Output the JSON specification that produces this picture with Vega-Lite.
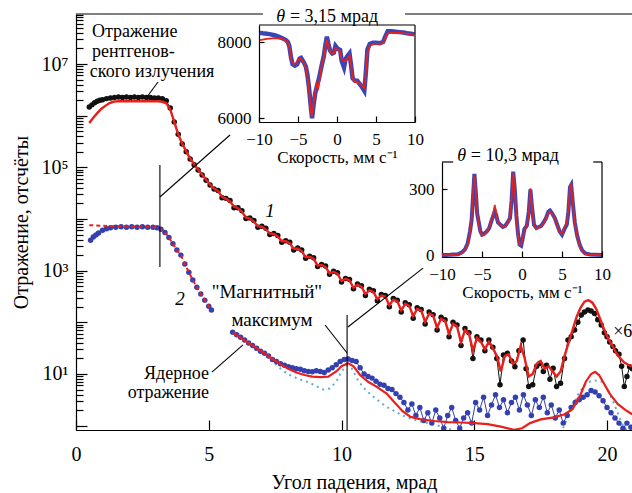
{
"$schema":"https://vega.github.io/schema/vega-lite/v6.json",
"width":556,"height":416,
"autosize":{"type":"none"},
"padding":{"left":76,"top":14,"right":0,"bottom":63},
"background":"white",
"config":{"view":{"stroke":null},
 "axis":{"grid":false,"domainColor":"#000","tickColor":"#000","labelColor":"#000","titleColor":"#000","titleFontWeight":"normal","domainWidth":1.2,"tickWidth":1.2,"labelFlush":false,"labelOverlap":false}},
"datasets":{
 "b1":[{"x":0.5,"y":1480000},{"x":0.6,"y":1620000},{"x":0.7,"y":1780000},{"x":0.8,"y":1910000},{"x":0.9,"y":2000000},{"x":1.0,"y":2040000},{"x":1.15,"y":2140000},{"x":1.3,"y":2190000},{"x":1.45,"y":2240000},{"x":1.6,"y":2290000},{"x":1.75,"y":2240000},{"x":1.9,"y":2290000},{"x":2.05,"y":2240000},{"x":2.2,"y":2290000},{"x":2.35,"y":2240000},{"x":2.5,"y":2290000},{"x":2.65,"y":2240000},{"x":2.8,"y":2240000},{"x":2.95,"y":2190000},{"x":3.1,"y":2190000},{"x":3.25,"y":2140000},{"x":3.4,"y":1950000},{"x":3.55,"y":1410000},{"x":3.7,"y":759000},{"x":3.85,"y":437000},{"x":4.0,"y":282000},{"x":4.15,"y":200000},{"x":4.3,"y":145000},{"x":4.45,"y":112000},{"x":4.6,"y":89100},{"x":4.75,"y":70800},{"x":4.9,"y":56200},{"x":5.05,"y":45700},{"x":5.2,"y":38000},{"x":5.35,"y":35500},{"x":5.5,"y":25700},{"x":5.65,"y":25100},{"x":5.8,"y":22900},{"x":5.95,"y":16600},{"x":6.1,"y":16600},{"x":6.25,"y":14500},{"x":6.4,"y":10200},{"x":6.55,"y":10500},{"x":6.7,"y":9330},{"x":6.85,"y":6920},{"x":7.0,"y":7240},{"x":7.15,"y":6610},{"x":7.3,"y":5010},{"x":7.45,"y":5250},{"x":7.6,"y":4790},{"x":7.75,"y":3550},{"x":7.9,"y":3800},{"x":8.05,"y":3550},{"x":8.2,"y":2510},{"x":8.35,"y":2750},{"x":8.5,"y":2510},{"x":8.65,"y":1740},{"x":8.8,"y":1910},{"x":8.95,"y":1780},{"x":9.1,"y":1200},{"x":9.25,"y":1320},{"x":9.4,"y":1230},{"x":9.55,"y":851},{"x":9.7,"y":977},{"x":9.85,"y":912},{"x":10.0,"y":603},{"x":10.15,"y":708},{"x":10.3,"y":676},{"x":10.45,"y":447},{"x":10.6,"y":550},{"x":10.75,"y":513},{"x":10.9,"y":331},{"x":11.05,"y":437},{"x":11.2,"y":407},{"x":11.35,"y":263},{"x":11.5,"y":347},{"x":11.65,"y":331},{"x":11.8,"y":200},{"x":11.95,"y":288},{"x":12.1,"y":269},{"x":12.25,"y":158},{"x":12.4,"y":240},{"x":12.55,"y":219},{"x":12.7,"y":120},{"x":12.85,"y":191},{"x":13.0,"y":178},{"x":13.15,"y":93.3},{"x":13.3,"y":158},{"x":13.45,"y":141},{"x":13.6,"y":70.8},{"x":13.75,"y":126},{"x":13.9,"y":112},{"x":14.05,"y":52.5},{"x":14.2,"y":100},{"x":14.35,"y":89.1},{"x":14.5,"y":35.5},{"x":14.65,"y":75.9},{"x":14.8,"y":63.1},{"x":14.95,"y":20.0},{"x":15.1,"y":52.5},{"x":15.25,"y":45.7},{"x":15.4,"y":28.2},{"x":15.55,"y":45.7},{"x":15.7,"y":33.1},{"x":15.85,"y":20.0},{"x":15.97,"y":6.17},{"x":16.1,"y":23.4},{"x":16.25,"y":25.1},{"x":16.4,"y":17.8},{"x":16.53,"y":13.8},{"x":16.68,"y":28.2},{"x":16.84,"y":45.7},{"x":16.95,"y":12.6},{"x":17.05,"y":5.75},{"x":17.2,"y":6.17},{"x":17.35,"y":14.1},{"x":17.47,"y":16.2},{"x":17.6,"y":11.2},{"x":17.72,"y":14.8},{"x":17.85,"y":7.94},{"x":17.97,"y":12.9},{"x":18.1,"y":5.75},{"x":18.25,"y":6.61},{"x":18.4,"y":20.0},{"x":18.53,"y":45.7},{"x":18.65,"y":52.5},{"x":18.78,"y":70.8},{"x":18.9,"y":100},{"x":19.03,"y":138},{"x":19.15,"y":158},{"x":19.28,"y":174},{"x":19.4,"y":166},{"x":19.53,"y":148},{"x":19.65,"y":112},{"x":19.78,"y":89.1},{"x":19.9,"y":63.1},{"x":20.0,"y":52.5},{"x":20.1,"y":41.7},{"x":20.22,"y":33.9},{"x":20.32,"y":28.2},{"x":20.45,"y":24.0},{"x":20.55,"y":14.1},{"x":20.65,"y":5.75},{"x":20.75,"y":8.91},{"x":20.85,"y":13.8},{"x":20.95,"y":12.6}],
 "r1":[{"x":0.5,"y":724000},{"x":0.65,"y":912000},{"x":0.8,"y":1120000},{"x":0.95,"y":1350000},{"x":1.1,"y":1550000},{"x":1.25,"y":1740000},{"x":1.4,"y":1860000},{"x":1.6,"y":1910000},{"x":2.0,"y":1910000},{"x":2.5,"y":1910000},{"x":3.0,"y":1910000},{"x":3.25,"y":1860000},{"x":3.4,"y":1740000},{"x":3.55,"y":1320000},{"x":3.7,"y":759000},{"x":3.85,"y":437000},{"x":4.0,"y":288000},{"x":4.15,"y":204000},{"x":4.3,"y":148000},{"x":4.45,"y":115000},{"x":4.6,"y":91200},{"x":4.75,"y":72400},{"x":4.9,"y":57500},{"x":5.05,"y":46800},{"x":5.2,"y":38900},{"x":5.35,"y":34700},{"x":5.5,"y":26900},{"x":5.65,"y":24500},{"x":5.8,"y":21900},{"x":5.95,"y":17400},{"x":6.1,"y":16200},{"x":6.25,"y":13800},{"x":6.4,"y":10700},{"x":6.55,"y":10200},{"x":6.7,"y":8910},{"x":6.85,"y":7240},{"x":7.0,"y":7080},{"x":7.15,"y":6310},{"x":7.3,"y":5250},{"x":7.45,"y":5130},{"x":7.6,"y":4570},{"x":7.75,"y":3720},{"x":7.9,"y":3720},{"x":8.05,"y":3390},{"x":8.2,"y":2630},{"x":8.35,"y":2690},{"x":8.5,"y":2400},{"x":8.65,"y":1820},{"x":8.8,"y":1860},{"x":8.95,"y":1700},{"x":9.1,"y":1260},{"x":9.25,"y":1290},{"x":9.4,"y":1170},{"x":9.55,"y":891},{"x":9.7,"y":955},{"x":9.85,"y":871},{"x":10.0,"y":631},{"x":10.15,"y":692},{"x":10.3,"y":646},{"x":10.45,"y":468},{"x":10.6,"y":537},{"x":10.75,"y":490},{"x":10.9,"y":355},{"x":11.05,"y":417},{"x":11.2,"y":389},{"x":11.35,"y":282},{"x":11.5,"y":331},{"x":11.65,"y":316},{"x":11.8,"y":214},{"x":11.95,"y":275},{"x":12.1,"y":257},{"x":12.25,"y":170},{"x":12.4,"y":229},{"x":12.55,"y":209},{"x":12.7,"y":132},{"x":12.85,"y":182},{"x":13.0,"y":170},{"x":13.15,"y":102},{"x":13.3,"y":148},{"x":13.45,"y":135},{"x":13.6,"y":79.4},{"x":13.75,"y":117},{"x":13.9,"y":107},{"x":14.05,"y":60.3},{"x":14.2,"y":93.3},{"x":14.35,"y":83.2},{"x":14.5,"y":41.7},{"x":14.65,"y":70.8},{"x":14.8,"y":60.3},{"x":14.95,"y":28.2},{"x":15.1,"y":50.1},{"x":15.25,"y":41.7},{"x":15.4,"y":30.2},{"x":15.55,"y":41.7},{"x":15.7,"y":31.6},{"x":15.85,"y":22.4},{"x":16.0,"y":11.2},{"x":16.15,"y":22.4},{"x":16.3,"y":24.0},{"x":16.45,"y":15.8},{"x":16.6,"y":17.8},{"x":16.75,"y":35.5},{"x":16.9,"y":20.0},{"x":17.05,"y":8.91},{"x":17.2,"y":10.0},{"x":17.35,"y":15.8},{"x":17.5,"y":17.8},{"x":17.65,"y":12.6},{"x":17.8,"y":14.1},{"x":17.95,"y":11.2},{"x":18.1,"y":8.91},{"x":18.25,"y":11.2},{"x":18.4,"y":22.4},{"x":18.55,"y":39.8},{"x":18.7,"y":70.8},{"x":18.85,"y":126},{"x":19.0,"y":191},{"x":19.15,"y":251},{"x":19.3,"y":269},{"x":19.45,"y":240},{"x":19.6,"y":178},{"x":19.75,"y":112},{"x":19.9,"y":70.8},{"x":20.05,"y":47.9},{"x":20.2,"y":35.5},{"x":20.35,"y":25.1},{"x":20.5,"y":20.0},{"x":20.65,"y":16.6},{"x":20.8,"y":15.1},{"x":20.95,"y":14.1}],
 "b2u":[{"x":0.55,"y":3890},{"x":0.65,"y":4470},{"x":0.75,"y":4900},{"x":0.85,"y":5370},{"x":1.0,"y":6030},{"x":1.15,"y":6460},{"x":1.3,"y":6760},{"x":1.5,"y":6920},{"x":1.7,"y":7080},{"x":1.9,"y":6920},{"x":2.1,"y":7080},{"x":2.3,"y":6920},{"x":2.5,"y":7080},{"x":2.7,"y":6920},{"x":2.9,"y":6920},{"x":3.05,"y":6760},{"x":3.2,"y":6310},{"x":3.35,"y":5500},{"x":3.5,"y":4370},{"x":3.65,"y":3310},{"x":3.8,"y":2510},{"x":3.95,"y":2000},{"x":4.1,"y":1350},{"x":4.25,"y":933},{"x":4.4,"y":661},{"x":4.55,"y":479},{"x":4.7,"y":355},{"x":4.85,"y":269},{"x":5.0,"y":204},{"x":5.1,"y":174}],
 "r2u":[{"x":0.5,"y":7590},{"x":1.0,"y":7410},{"x":1.5,"y":7240},{"x":2.0,"y":7160},{"x":2.5,"y":7080},{"x":3.0,"y":6920},{"x":3.2,"y":6310},{"x":3.35,"y":5500},{"x":3.5,"y":4370},{"x":3.65,"y":3310},{"x":3.8,"y":2510},{"x":3.95,"y":2000},{"x":4.1,"y":1350},{"x":4.25,"y":933},{"x":4.4,"y":661},{"x":4.55,"y":479},{"x":4.7,"y":355},{"x":4.85,"y":269},{"x":5.0,"y":204},{"x":5.1,"y":174}],
 "b2l":[{"x":5.9,"y":64.6},{"x":6.05,"y":57.5},{"x":6.2,"y":51.3},{"x":6.35,"y":45.7},{"x":6.5,"y":39.8},{"x":6.65,"y":35.5},{"x":6.8,"y":31.6},{"x":6.95,"y":27.5},{"x":7.1,"y":25.1},{"x":7.25,"y":22.4},{"x":7.4,"y":19.1},{"x":7.55,"y":17.4},{"x":7.7,"y":15.8},{"x":7.85,"y":14.8},{"x":8.0,"y":13.8},{"x":8.15,"y":13.2},{"x":8.3,"y":12.6},{"x":8.45,"y":12.3},{"x":8.6,"y":11.5},{"x":8.75,"y":11.2},{"x":8.9,"y":11.0},{"x":9.05,"y":11.5},{"x":9.2,"y":11.2},{"x":9.35,"y":10.7},{"x":9.5,"y":12.0},{"x":9.65,"y":13.2},{"x":9.8,"y":15.1},{"x":9.95,"y":17.4},{"x":10.1,"y":19.1},{"x":10.25,"y":19.5},{"x":10.4,"y":18.2},{"x":10.55,"y":17.4},{"x":10.7,"y":13.2},{"x":10.85,"y":10.0},{"x":11.0,"y":8.91},{"x":11.15,"y":8.32},{"x":11.3,"y":7.24},{"x":11.45,"y":6.31},{"x":11.6,"y":6.03},{"x":11.75,"y":5.25},{"x":11.9,"y":5.01},{"x":12.05,"y":4.17},{"x":12.2,"y":3.55},{"x":12.35,"y":2.82},{"x":12.5,"y":2.0},{"x":12.65,"y":2.63},{"x":12.8,"y":1.58},{"x":12.95,"y":2.24},{"x":13.1,"y":1.26},{"x":13.25,"y":1.78},{"x":13.4,"y":1.12},{"x":13.55,"y":2.0},{"x":13.7,"y":1.41},{"x":13.85,"y":0.891},{"x":14.0,"y":1.58},{"x":14.15,"y":2.24},{"x":14.3,"y":1.26},{"x":14.45,"y":0.891},{"x":14.6,"y":1.41},{"x":14.75,"y":1.78},{"x":14.9,"y":1.12},{"x":15.05,"y":2.82},{"x":15.2,"y":2.0},{"x":15.35,"y":3.55},{"x":15.5,"y":1.58},{"x":15.65,"y":2.51},{"x":15.8,"y":3.98},{"x":15.95,"y":2.24},{"x":16.1,"y":3.16},{"x":16.25,"y":1.78},{"x":16.4,"y":2.82},{"x":16.55,"y":3.55},{"x":16.7,"y":2.0},{"x":16.85,"y":3.98},{"x":17.0,"y":2.51},{"x":17.15,"y":1.58},{"x":17.3,"y":3.16},{"x":17.45,"y":2.24},{"x":17.6,"y":3.55},{"x":17.75,"y":1.78},{"x":17.9,"y":2.51},{"x":18.05,"y":1.41},{"x":18.2,"y":2.0},{"x":18.35,"y":1.12},{"x":18.5,"y":1.58},{"x":18.65,"y":2.24},{"x":18.8,"y":2.82},{"x":18.95,"y":3.16},{"x":19.1,"y":3.55},{"x":19.25,"y":3.98},{"x":19.4,"y":4.79},{"x":19.55,"y":4.47},{"x":19.7,"y":3.8},{"x":19.85,"y":3.02},{"x":20.0,"y":2.24},{"x":20.15,"y":1.78},{"x":20.3,"y":1.41},{"x":20.45,"y":1.12},{"x":20.6,"y":0.891},{"x":20.75,"y":1.12},{"x":20.9,"y":0.933}],
 "r2l":[{"x":5.9,"y":63.1},{"x":6.2,"y":50.1},{"x":6.5,"y":39.8},{"x":6.8,"y":31.6},{"x":7.1,"y":25.1},{"x":7.4,"y":19.5},{"x":7.7,"y":15.5},{"x":8.0,"y":12.6},{"x":8.3,"y":10.7},{"x":8.6,"y":9.55},{"x":8.9,"y":8.91},{"x":9.2,"y":8.71},{"x":9.5,"y":8.91},{"x":9.8,"y":11.2},{"x":10.0,"y":14.1},{"x":10.25,"y":16.2},{"x":10.45,"y":14.1},{"x":10.7,"y":9.55},{"x":11.0,"y":7.08},{"x":11.3,"y":5.75},{"x":11.7,"y":4.17},{"x":12.0,"y":2.82},{"x":12.3,"y":1.91},{"x":12.6,"y":1.48},{"x":13.0,"y":1.32},{"x":13.5,"y":1.23},{"x":14.0,"y":1.17},{"x":14.5,"y":1.15},{"x":15.0,"y":1.12},{"x":15.5,"y":1.07},{"x":16.0,"y":0.955},{"x":16.5,"y":0.832},{"x":16.8,"y":0.891},{"x":17.1,"y":1.12},{"x":17.5,"y":1.32},{"x":18.0,"y":1.45},{"x":18.4,"y":1.66},{"x":18.7,"y":2.09},{"x":19.0,"y":3.98},{"x":19.2,"y":7.08},{"x":19.4,"y":10.0},{"x":19.55,"y":11.0},{"x":19.7,"y":9.55},{"x":19.9,"y":6.31},{"x":20.1,"y":4.17},{"x":20.4,"y":2.63},{"x":20.7,"y":2.0},{"x":20.95,"y":1.66}],
 "cy":[{"x":7.5,"y":15.8},{"x":7.8,"y":11.5},{"x":8.1,"y":9.33},{"x":8.4,"y":7.94},{"x":8.7,"y":7.08},{"x":9.0,"y":6.03},{"x":9.3,"y":5.01},{"x":9.55,"y":5.25},{"x":9.8,"y":7.08},{"x":10.0,"y":11.2},{"x":10.2,"y":14.8},{"x":10.4,"y":12.6},{"x":10.6,"y":7.94},{"x":10.8,"y":5.62},{"x":11.1,"y":3.98},{"x":11.4,"y":3.02},{"x":11.7,"y":2.29},{"x":12.0,"y":1.91},{"x":12.3,"y":1.58},{"x":12.6,"y":1.38},{"x":13.0,"y":1.2},{"x":13.5,"y":1.05},{"x":14.0,"y":0.891},{"x":14.5,"y":0.708},{"x":15.5,"y":0.5},{"x":17.5,"y":0.5},{"x":18.3,"y":0.794},{"x":18.6,"y":1.78},{"x":18.9,"y":3.98},{"x":19.2,"y":6.61},{"x":19.5,"y":7.59},{"x":19.8,"y":7.08},{"x":20.0,"y":5.25},{"x":20.2,"y":3.16},{"x":20.4,"y":1.78},{"x":20.6,"y":1.0},{"x":20.9,"y":0.631}],
 "seg":[{"x":2.67,"y":2300000,"x2":3.09,"y2":4490000},{"x":3.16,"y":111000,"x2":3.16,"y2":1178},{"x":3.16,"y":26700,"x2":5.8,"y2":423000},{"x":10.21,"y":139,"x2":10.21,"y2":0.824},{"x":10.24,"y":81.3,"x2":13.07,"y2":1122},{"x":9.38,"y":88.9,"x2":10.21,"y2":25.5},{"x":5.12,"y":10.9,"x2":6.29,"y2":36.5}],
 "topb":[{"x":0,"x2":7.04},{"x":12.39,"x2":20.94}],
 "tl":[{"x":0.6,"y":33300000,"t":"Отражение"},{"x":0.6,"y":13600000,"t":"рентгенов-"},{"x":0.52,"y":5600000,"t":"ского излучения"},{"x":20.23,"y":52.7,"t":"×6"}],
 "tc":[{"x":7.19,"y":292,"t":"\"Магнитный\""},{"x":7.38,"y":84.9,"t":"максимум"}],
 "tr":[{"x":5.01,"y":8.02,"t":"Ядерное"},{"x":5.01,"y":3.44,"t":"отражение"}],
 "ti":[{"x":7.31,"y":11100,"t":"1"},{"x":3.92,"y":217,"t":"2"}],
 "i1b":[{"x":-9.9,"y":8240},{"x":-9.5,"y":8230},{"x":-9.0,"y":8220},{"x":-8.5,"y":8200},{"x":-8.0,"y":8180},{"x":-7.5,"y":8140},{"x":-7.0,"y":8100},{"x":-6.6,"y":8060},{"x":-6.3,"y":8000},{"x":-6.1,"y":7880},{"x":-5.9,"y":7600},{"x":-5.7,"y":7420},{"x":-5.4,"y":7380},{"x":-5.1,"y":7420},{"x":-4.8,"y":7560},{"x":-4.6,"y":7580},{"x":-4.3,"y":7480},{"x":-4.0,"y":7360},{"x":-3.8,"y":7150},{"x":-3.6,"y":6820},{"x":-3.4,"y":6400},{"x":-3.2,"y":6000},{"x":-3.0,"y":6350},{"x":-2.8,"y":6650},{"x":-2.5,"y":6900},{"x":-2.3,"y":7050},{"x":-2.0,"y":7350},{"x":-1.7,"y":7620},{"x":-1.5,"y":7900},{"x":-1.3,"y":8140},{"x":-1.1,"y":7950},{"x":-0.9,"y":7780},{"x":-0.6,"y":7700},{"x":-0.4,"y":7720},{"x":-0.2,"y":7900},{"x":0.1,"y":7820},{"x":0.4,"y":7790},{"x":0.6,"y":7500},{"x":0.9,"y":7330},{"x":1.1,"y":7550},{"x":1.3,"y":7620},{"x":1.6,"y":7700},{"x":1.8,"y":7400},{"x":2.0,"y":7050},{"x":2.3,"y":6980},{"x":2.6,"y":6980},{"x":2.9,"y":6900},{"x":3.2,"y":6820},{"x":3.5,"y":6720},{"x":3.7,"y":7200},{"x":3.9,"y":7800},{"x":4.2,"y":7950},{"x":4.6,"y":7980},{"x":5.0,"y":7980},{"x":5.5,"y":7970},{"x":5.9,"y":8000},{"x":6.2,"y":8150},{"x":6.5,"y":8280},{"x":7.0,"y":8280},{"x":7.5,"y":8270},{"x":8.0,"y":8260},{"x":8.5,"y":8250},{"x":9.0,"y":8230},{"x":9.5,"y":8220},{"x":9.9,"y":8200}],
 "i1r":[{"x":-9.9,"y":8050},{"x":-9.0,"y":8080},{"x":-8.0,"y":8100},{"x":-7.0,"y":8080},{"x":-6.5,"y":8030},{"x":-6.2,"y":7950},{"x":-6.0,"y":7750},{"x":-5.8,"y":7480},{"x":-5.5,"y":7420},{"x":-5.2,"y":7450},{"x":-4.9,"y":7560},{"x":-4.6,"y":7560},{"x":-4.3,"y":7460},{"x":-4.0,"y":7330},{"x":-3.8,"y":7100},{"x":-3.6,"y":6750},{"x":-3.4,"y":6350},{"x":-3.25,"y":6050},{"x":-3.05,"y":6300},{"x":-2.85,"y":6650},{"x":-2.6,"y":6900},{"x":-2.4,"y":6800},{"x":-2.2,"y":7050},{"x":-2.0,"y":7350},{"x":-1.7,"y":7600},{"x":-1.5,"y":7850},{"x":-1.3,"y":8050},{"x":-1.1,"y":7900},{"x":-0.9,"y":7750},{"x":-0.6,"y":7700},{"x":-0.4,"y":7700},{"x":-0.2,"y":7850},{"x":0.1,"y":7800},{"x":0.4,"y":7750},{"x":0.6,"y":7550},{"x":0.9,"y":7500},{"x":1.1,"y":7500},{"x":1.3,"y":7550},{"x":1.6,"y":7650},{"x":1.8,"y":7400},{"x":2.0,"y":7050},{"x":2.3,"y":6950},{"x":2.6,"y":6950},{"x":2.9,"y":6900},{"x":3.2,"y":6850},{"x":3.5,"y":6800},{"x":3.7,"y":7200},{"x":3.9,"y":7700},{"x":4.2,"y":7900},{"x":4.6,"y":7950},{"x":5.0,"y":7950},{"x":5.5,"y":7950},{"x":5.9,"y":7980},{"x":6.2,"y":8120},{"x":6.5,"y":8230},{"x":7.0,"y":8240},{"x":8.0,"y":8240},{"x":9.0,"y":8220},{"x":9.9,"y":8200}],
 "i2b":[{"x":-10,"y":3},{"x":-9,"y":4},{"x":-8,"y":6},{"x":-7.5,"y":15},{"x":-7.1,"y":30},{"x":-6.8,"y":55},{"x":-6.5,"y":110},{"x":-6.3,"y":160},{"x":-6.1,"y":280},{"x":-5.95,"y":370},{"x":-5.8,"y":300},{"x":-5.6,"y":190},{"x":-5.4,"y":150},{"x":-5.2,"y":110},{"x":-5.0,"y":95},{"x":-4.7,"y":100},{"x":-4.4,"y":110},{"x":-4.1,"y":125},{"x":-3.8,"y":160},{"x":-3.6,"y":180},{"x":-3.4,"y":200},{"x":-3.2,"y":180},{"x":-3.0,"y":150},{"x":-2.7,"y":140},{"x":-2.4,"y":130},{"x":-2.1,"y":135},{"x":-1.8,"y":150},{"x":-1.5,"y":170},{"x":-1.3,"y":250},{"x":-1.1,"y":380},{"x":-0.9,"y":300},{"x":-0.7,"y":180},{"x":-0.5,"y":100},{"x":-0.3,"y":50},{"x":-0.1,"y":45},{"x":0.1,"y":80},{"x":0.3,"y":120},{"x":0.6,"y":135},{"x":0.85,"y":200},{"x":1.05,"y":300},{"x":1.25,"y":220},{"x":1.5,"y":140},{"x":1.8,"y":125},{"x":2.1,"y":130},{"x":2.4,"y":135},{"x":2.7,"y":150},{"x":3.0,"y":170},{"x":3.3,"y":200},{"x":3.5,"y":205},{"x":3.8,"y":190},{"x":4.1,"y":170},{"x":4.4,"y":140},{"x":4.7,"y":110},{"x":5.0,"y":95},{"x":5.3,"y":120},{"x":5.6,"y":140},{"x":5.8,"y":200},{"x":6.0,"y":310},{"x":6.15,"y":320},{"x":6.35,"y":240},{"x":6.6,"y":150},{"x":6.9,"y":90},{"x":7.2,"y":50},{"x":7.5,"y":25},{"x":7.9,"y":10},{"x":8.5,"y":5},{"x":9.2,"y":4},{"x":10,"y":3}],
 "i2r":[{"x":-10,"y":2},{"x":-9,"y":3},{"x":-8,"y":5},{"x":-7.5,"y":12},{"x":-7.1,"y":28},{"x":-6.8,"y":50},{"x":-6.5,"y":100},{"x":-6.3,"y":170},{"x":-6.1,"y":300},{"x":-5.95,"y":360},{"x":-5.8,"y":310},{"x":-5.6,"y":200},{"x":-5.4,"y":140},{"x":-5.2,"y":105},{"x":-5.0,"y":90},{"x":-4.7,"y":95},{"x":-4.4,"y":108},{"x":-4.1,"y":125},{"x":-3.8,"y":165},{"x":-3.6,"y":190},{"x":-3.4,"y":230},{"x":-3.2,"y":190},{"x":-3.0,"y":150},{"x":-2.7,"y":138},{"x":-2.4,"y":130},{"x":-2.1,"y":133},{"x":-1.8,"y":148},{"x":-1.5,"y":175},{"x":-1.3,"y":260},{"x":-1.1,"y":375},{"x":-0.9,"y":290},{"x":-0.7,"y":170},{"x":-0.5,"y":90},{"x":-0.3,"y":48},{"x":-0.1,"y":50},{"x":0.1,"y":85},{"x":0.3,"y":115},{"x":0.6,"y":130},{"x":0.85,"y":190},{"x":1.05,"y":305},{"x":1.25,"y":215},{"x":1.5,"y":135},{"x":1.8,"y":122},{"x":2.1,"y":128},{"x":2.4,"y":133},{"x":2.7,"y":148},{"x":3.0,"y":168},{"x":3.3,"y":195},{"x":3.5,"y":200},{"x":3.8,"y":188},{"x":4.1,"y":168},{"x":4.4,"y":138},{"x":4.7,"y":108},{"x":5.0,"y":100},{"x":5.3,"y":130},{"x":5.6,"y":150},{"x":5.8,"y":210},{"x":6.0,"y":315},{"x":6.15,"y":325},{"x":6.35,"y":235},{"x":6.6,"y":145},{"x":6.9,"y":85},{"x":7.2,"y":45},{"x":7.5,"y":22},{"x":7.9,"y":8},{"x":8.5,"y":4},{"x":9.2,"y":3},{"x":10,"y":2}],
 "f1":[{"x":10,"y":5900,"x2":10,"y2":8447},{"x":-10,"y":8447,"x2":10,"y2":8447}],
 "f2":[{"x":10,"y":-6,"x2":10,"y2":424},{"x":-10,"y":424,"x2":-8.6,"y2":424},{"x":8.9,"y":424,"x2":10,"y2":424}]
},
"layer":[
  {"data":{"name":"b1"},"mark":{"type":"line","color":"#111","strokeWidth":1,"clip":true},
   "encoding":{"x":{"field":"x","type":"quantitative","scale":{"domain":[0,20.94],"nice":false,"zero":false},
     "axis":{"orient":"bottom","values":[0,5,10,15,20],"tickSize":-10,"labelPadding":24,"labelFont":"Times New Roman","titleFont":"Times New Roman","labelFontSize":20,"title":"Угол падения, мрад","titleFontSize":20,"titlePadding":8}},
    "y":{"field":"y","type":"quantitative","scale":{"type":"log","domain":[0.824,93000000],"nice":false},
     "axis":{"orient":"left","values":[1,10,100,1000,10000,100000,1000000,10000000],"tickSize":-11,"labelPadding":19,"labelFont":"Times New Roman","titleFont":"Times New Roman","labelFontSize":20,"labelExpr":"datum.value == 10 ? '10¹' : datum.value == 1000 ? '10³' : datum.value == 100000 ? '10⁵' : datum.value == 10000000 ? '10⁷' : ''","title":"Отражение, отсчёты","titleFontSize":20,"titlePadding":10}}}},
  {"data":{"name":"topb"},"mark":{"type":"rule","color":"#000","strokeWidth":1.2},
   "encoding":{"x":{"field":"x","type":"quantitative","scale":{"domain":[0,20.94],"nice":false,"zero":false},"axis":null},"x2":{"field":"x2"},
    "y":{"datum":93000000,"type":"quantitative","scale":{"type":"log","domain":[0.824,93000000],"nice":false},
     "axis":{"orient":"left","values":[2,3,4,5,6,7,8,9,20,30,40,50,60,70,80,90,200,300,400,500,600,700,800,900,2000,3000,4000,5000,6000,7000,8000,9000,20000,30000,40000,50000,60000,70000,80000,90000,200000,300000,400000,500000,600000,700000,800000,900000,2000000,3000000,4000000,5000000,6000000,7000000,8000000,9000000,20000000,30000000,40000000,50000000,60000000,70000000,80000000,90000000],"tickSize":-7,"labels":false,"domain":false,"title":null}}}},
  {"data":{"name":"b1"},"mark":{"type":"circle","color":"#111","size":30,"opacity":1,"clip":true},
   "encoding":{"x":{"field":"x","type":"quantitative","scale":{"domain":[0,20.94],"nice":false,"zero":false},"axis":null},
    "y":{"field":"y","type":"quantitative","scale":{"type":"log","domain":[0.824,93000000],"nice":false},"axis":null}}},
  {"data":{"name":"r1"},"mark":{"type":"line","color":"#e8201c","strokeWidth":2.4,"clip":true},
   "encoding":{"x":{"field":"x","type":"quantitative","scale":{"domain":[0,20.94],"nice":false,"zero":false},"axis":null},
    "y":{"field":"y","type":"quantitative","scale":{"type":"log","domain":[0.824,93000000],"nice":false},"axis":null}}},
  {"data":{"name":"b2u"},"mark":{"type":"circle","color":"#3440b0","size":30,"opacity":1,"clip":true},
   "encoding":{"x":{"field":"x","type":"quantitative","scale":{"domain":[0,20.94],"nice":false,"zero":false},"axis":null},
    "y":{"field":"y","type":"quantitative","scale":{"type":"log","domain":[0.824,93000000],"nice":false},"axis":null}}},
  {"data":{"name":"r2u"},"mark":{"type":"line","color":"#e8201c","strokeWidth":2,"strokeDash":[4,3],"clip":true},
   "encoding":{"x":{"field":"x","type":"quantitative","scale":{"domain":[0,20.94],"nice":false,"zero":false},"axis":null},
    "y":{"field":"y","type":"quantitative","scale":{"type":"log","domain":[0.824,93000000],"nice":false},"axis":null}}},
  {"data":{"name":"cy"},"mark":{"type":"line","color":"#5fb0c8","strokeWidth":2,"strokeDash":[2,4],"clip":true},
   "encoding":{"x":{"field":"x","type":"quantitative","scale":{"domain":[0,20.94],"nice":false,"zero":false},"axis":null},
    "y":{"field":"y","type":"quantitative","scale":{"type":"log","domain":[0.824,93000000],"nice":false},"axis":null}}},
  {"data":{"name":"b2l"},"mark":{"type":"line","color":"#3440b0","strokeWidth":1,"clip":true},
   "encoding":{"x":{"field":"x","type":"quantitative","scale":{"domain":[0,20.94],"nice":false,"zero":false},"axis":null},
    "y":{"field":"y","type":"quantitative","scale":{"type":"log","domain":[0.824,93000000],"nice":false},"axis":null}}},
  {"data":{"name":"b2l"},"mark":{"type":"circle","color":"#3440b0","size":30,"opacity":1,"clip":true},
   "encoding":{"x":{"field":"x","type":"quantitative","scale":{"domain":[0,20.94],"nice":false,"zero":false},"axis":null},
    "y":{"field":"y","type":"quantitative","scale":{"type":"log","domain":[0.824,93000000],"nice":false},"axis":null}}},
  {"data":{"name":"r2l"},"mark":{"type":"line","color":"#e8201c","strokeWidth":2.2,"clip":true},
   "encoding":{"x":{"field":"x","type":"quantitative","scale":{"domain":[0,20.94],"nice":false,"zero":false},"axis":null},
    "y":{"field":"y","type":"quantitative","scale":{"type":"log","domain":[0.824,93000000],"nice":false},"axis":null}}},
  {"data":{"name":"seg"},"mark":{"type":"rule","color":"#000","strokeWidth":1.1},
   "encoding":{"x":{"field":"x","type":"quantitative","scale":{"domain":[0,20.94],"nice":false,"zero":false},"axis":null},"x2":{"field":"x2"},
    "y":{"field":"y","type":"quantitative","scale":{"type":"log","domain":[0.824,93000000],"nice":false},"axis":null},"y2":{"field":"y2"}}},
  {"data":{"name":"tl"},"mark":{"type":"text","align":"left","baseline":"alphabetic","fontSize":18,"font":"Times New Roman","color":"#000"},
   "encoding":{"x":{"field":"x","type":"quantitative","scale":{"domain":[0,20.94],"nice":false,"zero":false},"axis":null},
    "y":{"field":"y","type":"quantitative","scale":{"type":"log","domain":[0.824,93000000],"nice":false},"axis":null},"text":{"field":"t"}}},
  {"data":{"name":"tc"},"mark":{"type":"text","align":"center","baseline":"alphabetic","fontSize":19,"font":"Times New Roman","color":"#000"},
   "encoding":{"x":{"field":"x","type":"quantitative","scale":{"domain":[0,20.94],"nice":false,"zero":false},"axis":null},
    "y":{"field":"y","type":"quantitative","scale":{"type":"log","domain":[0.824,93000000],"nice":false},"axis":null},"text":{"field":"t"}}},
  {"data":{"name":"tr"},"mark":{"type":"text","align":"right","baseline":"alphabetic","fontSize":18,"font":"Times New Roman","color":"#000"},
   "encoding":{"x":{"field":"x","type":"quantitative","scale":{"domain":[0,20.94],"nice":false,"zero":false},"axis":null},
    "y":{"field":"y","type":"quantitative","scale":{"type":"log","domain":[0.824,93000000],"nice":false},"axis":null},"text":{"field":"t"}}},
  {"data":{"name":"ti"},"mark":{"type":"text","align":"center","baseline":"alphabetic","fontSize":19,"fontStyle":"italic","font":"Times New Roman","color":"#000"},
   "encoding":{"x":{"field":"x","type":"quantitative","scale":{"domain":[0,20.94],"nice":false,"zero":false},"axis":null},
    "y":{"field":"y","type":"quantitative","scale":{"type":"log","domain":[0.824,93000000],"nice":false},"axis":null},"text":{"field":"t"}}},
  {"data":{"name":"i1b"},"mark":{"type":"line","color":"#3a46b8","strokeWidth":4.5},
   "encoding":{"x":{"field":"x","type":"quantitative","scale":{"domain":[-10,10],"range":[183,339],"nice":false,"zero":false},
     "axis":{"orient":"bottom","offset":-308,"values":[-10,-5,0,5,10],"tickSize":-6,"labelPadding":15,"labelFont":"Times New Roman","titleFont":"Times New Roman","labelFontSize":17,"title":"Скорость, мм с⁻¹","titleFontSize":17,"titlePadding":2}},
    "y":{"field":"y","type":"quantitative","scale":{"domain":[5900,8447],"range":[108,11],"nice":false,"zero":false},
     "axis":{"orient":"left","offset":-183,"values":[6000,8000],"format":"d","tickSize":-5,"labelPadding":13,"labelFont":"Times New Roman","labelFontSize":17,"title":null}}}},
  {"data":{"name":"i1r"},"mark":{"type":"line","color":"#e8201c","strokeWidth":1.8},
   "encoding":{"x":{"field":"x","type":"quantitative","scale":{"domain":[-10,10],"range":[183,339],"nice":false,"zero":false},"axis":null},
    "y":{"field":"y","type":"quantitative","scale":{"domain":[5900,8447],"range":[108,11],"nice":false,"zero":false},"axis":null}}},
  {"data":{"name":"f1"},"mark":{"type":"rule","color":"#000","strokeWidth":1.2},
   "encoding":{"x":{"field":"x","type":"quantitative","scale":{"domain":[-10,10],"range":[183,339],"nice":false,"zero":false},"axis":null},"x2":{"field":"x2"},
    "y":{"field":"y","type":"quantitative","scale":{"domain":[5900,8447],"range":[108,11],"nice":false,"zero":false},"axis":null},"y2":{"field":"y2"}}},
  {"data":{"values":[{}]},"mark":{"type":"text","align":"right","baseline":"alphabetic","fontSize":18,"fontStyle":"italic","font":"Times New Roman","color":"#000"},
   "encoding":{"x":{"datum":-6.67,"type":"quantitative","scale":{"domain":[-10,10],"range":[183,339],"nice":false,"zero":false},"axis":null},
    "y":{"datum":8534,"type":"quantitative","scale":{"domain":[5900,8447],"range":[108,11],"nice":false,"zero":false},"axis":null},"text":{"value":"θ"}}},
  {"data":{"values":[{}]},"mark":{"type":"text","align":"left","baseline":"alphabetic","fontSize":18,"font":"Times New Roman","color":"#000"},
   "encoding":{"x":{"datum":-6.03,"type":"quantitative","scale":{"domain":[-10,10],"range":[183,339],"nice":false,"zero":false},"axis":null},
    "y":{"datum":8534,"type":"quantitative","scale":{"domain":[5900,8447],"range":[108,11],"nice":false,"zero":false},"axis":null},"text":{"value":"= 3,15 мрад"}}},
  {"data":{"name":"i2b"},"mark":{"type":"line","color":"#3a46b8","strokeWidth":4},
   "encoding":{"x":{"field":"x","type":"quantitative","scale":{"domain":[-10,10],"range":[366,526],"nice":false,"zero":false},
     "axis":{"orient":"bottom","offset":-173,"values":[-10,-5,0,5,10],"tickSize":-6,"labelPadding":15,"labelFont":"Times New Roman","titleFont":"Times New Roman","labelFontSize":17,"title":"Скорость, мм с⁻¹","titleFontSize":17,"titlePadding":2}},
    "y":{"field":"y","type":"quantitative","scale":{"domain":[-6,424],"range":[243,148],"nice":false,"zero":false},
     "axis":{"orient":"left","offset":-366,"values":[0,300],"format":"d","tickSize":-5,"labelPadding":13,"labelFont":"Times New Roman","labelFontSize":17,"title":null}}}},
  {"data":{"name":"i2r"},"mark":{"type":"line","color":"#e8201c","strokeWidth":1.8,"opacity":0.9},
   "encoding":{"x":{"field":"x","type":"quantitative","scale":{"domain":[-10,10],"range":[366,526],"nice":false,"zero":false},"axis":null},
    "y":{"field":"y","type":"quantitative","scale":{"domain":[-6,424],"range":[243,148],"nice":false,"zero":false},"axis":null}}},
  {"data":{"name":"f2"},"mark":{"type":"rule","color":"#000","strokeWidth":1.2},
   "encoding":{"x":{"field":"x","type":"quantitative","scale":{"domain":[-10,10],"range":[366,526],"nice":false,"zero":false},"axis":null},"x2":{"field":"x2"},
    "y":{"field":"y","type":"quantitative","scale":{"domain":[-6,424],"range":[243,148],"nice":false,"zero":false},"axis":null},"y2":{"field":"y2"}}},
  {"data":{"values":[{}]},"mark":{"type":"text","align":"right","baseline":"alphabetic","fontSize":18,"fontStyle":"italic","font":"Times New Roman","color":"#000"},
   "encoding":{"x":{"datum":-7.0,"type":"quantitative","scale":{"domain":[-10,10],"range":[366,526],"nice":false,"zero":false},"axis":null},
    "y":{"datum":429,"type":"quantitative","scale":{"domain":[-6,424],"range":[243,148],"nice":false,"zero":false},"axis":null},"text":{"value":"θ"}}},
  {"data":{"values":[{}]},"mark":{"type":"text","align":"left","baseline":"alphabetic","fontSize":18,"font":"Times New Roman","color":"#000"},
   "encoding":{"x":{"datum":-6.4,"type":"quantitative","scale":{"domain":[-10,10],"range":[366,526],"nice":false,"zero":false},"axis":null},
    "y":{"datum":429,"type":"quantitative","scale":{"domain":[-6,424],"range":[243,148],"nice":false,"zero":false},"axis":null},"text":{"value":"= 10,3 мрад"}}}
],
"resolve":{"scale":{"x":"independent","y":"independent"},"axis":{"x":"independent","y":"independent"}}
}
